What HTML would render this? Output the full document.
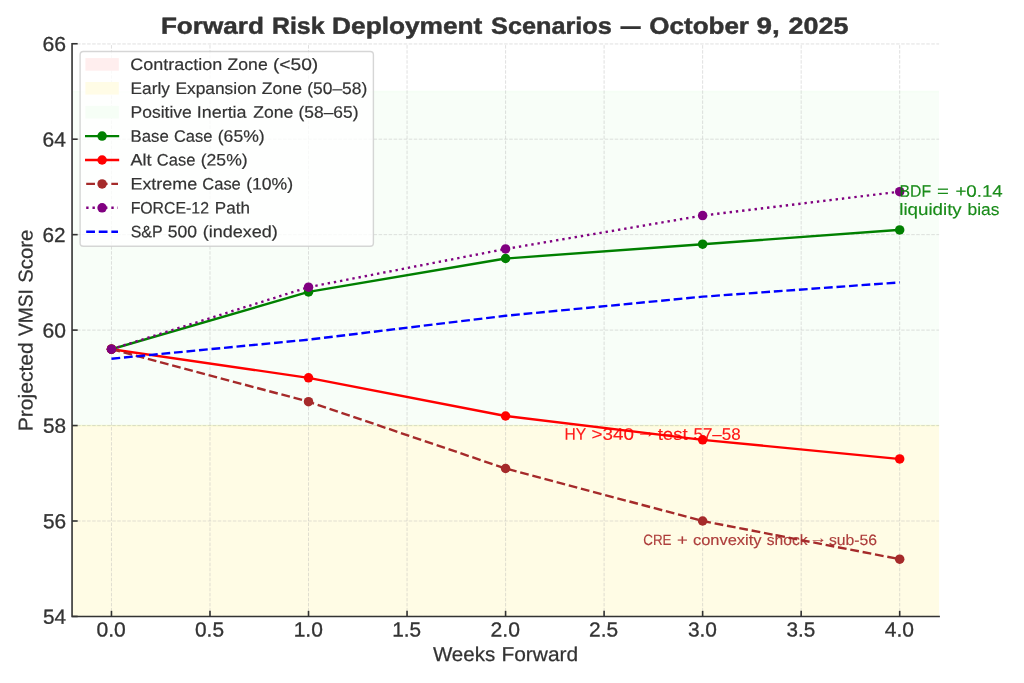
<!DOCTYPE html>
<html lang="en"><head><meta charset="utf-8"><title>Forward Risk Deployment Scenarios</title>
<style>html,body{margin:0;padding:0;background:#fff;overflow:hidden}svg{display:block;will-change:transform}text{font-family:"Liberation Sans",sans-serif;white-space:pre}</style>
</head><body>
<svg width="1024" height="683" viewBox="0 0 1024 683">
<rect x="0" y="0" width="1024" height="683" fill="#ffffff"/>
<defs><clipPath id="ax"><rect x="72.05" y="43.75" width="867.05" height="572.70"/></clipPath></defs>
<g clip-path="url(#ax)">
<rect x="52.05" y="91.48" width="907.05" height="334.08" fill="#90ee90" fill-opacity="0.065" stroke="#90ee90" stroke-opacity="0.065" stroke-width="1.58"/>
<rect x="52.05" y="425.55" width="907.05" height="381.80" fill="#ffdf00" fill-opacity="0.1" stroke="#ffdf00" stroke-opacity="0.1" stroke-width="1.58"/>
</g>
<g stroke="#b0b0b0" stroke-opacity="0.42" stroke-width="0.948" stroke-dasharray="3.508 1.517" fill="none">
<line x1="111.46" y1="616.45" x2="111.46" y2="43.75"/>
<line x1="209.99" y1="616.45" x2="209.99" y2="43.75"/>
<line x1="308.52" y1="616.45" x2="308.52" y2="43.75"/>
<line x1="407.05" y1="616.45" x2="407.05" y2="43.75"/>
<line x1="505.58" y1="616.45" x2="505.58" y2="43.75"/>
<line x1="604.10" y1="616.45" x2="604.10" y2="43.75"/>
<line x1="702.63" y1="616.45" x2="702.63" y2="43.75"/>
<line x1="801.16" y1="616.45" x2="801.16" y2="43.75"/>
<line x1="899.69" y1="616.45" x2="899.69" y2="43.75"/>
<line x1="72.05" y1="616.45" x2="939.1" y2="616.45"/>
<line x1="72.05" y1="521.00" x2="939.1" y2="521.00"/>
<line x1="72.05" y1="425.55" x2="939.1" y2="425.55"/>
<line x1="72.05" y1="330.10" x2="939.1" y2="330.10"/>
<line x1="72.05" y1="234.65" x2="939.1" y2="234.65"/>
<line x1="72.05" y1="139.20" x2="939.1" y2="139.20"/>
<line x1="72.05" y1="43.95" x2="939.1" y2="43.95"/>
</g>
<polyline points="111.46,349.19 308.52,291.92 505.58,258.51 702.63,244.20 899.69,229.88" fill="none" stroke="#008000" stroke-width="2.37" stroke-linejoin="round" stroke-linecap="square"/>
<circle cx="111.46" cy="349.19" r="4.75" fill="#008000"/>
<circle cx="308.52" cy="291.92" r="4.75" fill="#008000"/>
<circle cx="505.58" cy="258.51" r="4.75" fill="#008000"/>
<circle cx="702.63" cy="244.20" r="4.75" fill="#008000"/>
<circle cx="899.69" cy="229.88" r="4.75" fill="#008000"/>
<polyline points="111.46,349.19 308.52,377.83 505.58,416.00 702.63,439.87 899.69,458.96" fill="none" stroke="#ff0000" stroke-width="2.37" stroke-linejoin="round" stroke-linecap="square"/>
<circle cx="111.46" cy="349.19" r="4.75" fill="#ff0000"/>
<circle cx="308.52" cy="377.83" r="4.75" fill="#ff0000"/>
<circle cx="505.58" cy="416.00" r="4.75" fill="#ff0000"/>
<circle cx="702.63" cy="439.87" r="4.75" fill="#ff0000"/>
<circle cx="899.69" cy="458.96" r="4.75" fill="#ff0000"/>
<polyline points="111.46,349.19 308.52,401.69 505.58,468.50 702.63,521.00 899.69,559.18" fill="none" stroke="#a52a2a" stroke-width="2.37" stroke-linejoin="round" stroke-linecap="butt" stroke-dasharray="8.770 3.793"/>
<circle cx="111.46" cy="349.19" r="4.75" fill="#a52a2a"/>
<circle cx="308.52" cy="401.69" r="4.75" fill="#a52a2a"/>
<circle cx="505.58" cy="468.50" r="4.75" fill="#a52a2a"/>
<circle cx="702.63" cy="521.00" r="4.75" fill="#a52a2a"/>
<circle cx="899.69" cy="559.18" r="4.75" fill="#a52a2a"/>
<polyline points="111.46,349.19 308.52,287.15 505.58,248.97 702.63,215.56 899.69,191.70" fill="none" stroke="#800080" stroke-width="2.37" stroke-linejoin="round" stroke-linecap="butt" stroke-dasharray="2.370 3.911"/>
<circle cx="111.46" cy="349.19" r="4.75" fill="#800080"/>
<circle cx="308.52" cy="287.15" r="4.75" fill="#800080"/>
<circle cx="505.58" cy="248.97" r="4.75" fill="#800080"/>
<circle cx="702.63" cy="215.56" r="4.75" fill="#800080"/>
<circle cx="899.69" cy="191.70" r="4.75" fill="#800080"/>
<polyline points="111.46,358.74 308.52,339.65 505.58,315.78 702.63,296.69 899.69,282.38" fill="none" stroke="#0000ff" stroke-width="2.37" stroke-linejoin="round" stroke-linecap="butt" stroke-dasharray="8.770 3.793"/>
<g stroke="#333333" stroke-width="1.6" fill="none">
<path d="M72.05 42.95V616.45H939.90"/>
<line x1="111.46" y1="616.45" x2="111.46" y2="610.85"/>
<line x1="209.99" y1="616.45" x2="209.99" y2="610.85"/>
<line x1="308.52" y1="616.45" x2="308.52" y2="610.85"/>
<line x1="407.05" y1="616.45" x2="407.05" y2="610.85"/>
<line x1="505.58" y1="616.45" x2="505.58" y2="610.85"/>
<line x1="604.10" y1="616.45" x2="604.10" y2="610.85"/>
<line x1="702.63" y1="616.45" x2="702.63" y2="610.85"/>
<line x1="801.16" y1="616.45" x2="801.16" y2="610.85"/>
<line x1="899.69" y1="616.45" x2="899.69" y2="610.85"/>
<line x1="72.05" y1="616.45" x2="77.65" y2="616.45"/>
<line x1="72.05" y1="521.00" x2="77.65" y2="521.00"/>
<line x1="72.05" y1="425.55" x2="77.65" y2="425.55"/>
<line x1="72.05" y1="330.10" x2="77.65" y2="330.10"/>
<line x1="72.05" y1="234.65" x2="77.65" y2="234.65"/>
<line x1="72.05" y1="139.20" x2="77.65" y2="139.20"/>
<line x1="72.05" y1="43.75" x2="77.65" y2="43.75"/>
</g>
<g font-size="20.38" fill="#333333" stroke="#333333" stroke-width="0.3">
<text x="96.50" y="636.5" transform="rotate(0.03 96.50 636.5)" textLength="29.32" lengthAdjust="spacingAndGlyphs">0.0</text>
</g>
<g font-size="20.38" fill="#333333" stroke="#333333" stroke-width="0.3">
<text x="195.04" y="636.5" transform="rotate(0.03 195.04 636.5)" textLength="28.97" lengthAdjust="spacingAndGlyphs">0.5</text>
</g>
<g font-size="20.38" fill="#333333" stroke="#333333" stroke-width="0.3">
<text x="293.68" y="636.5" transform="rotate(0.03 293.68 636.5)" textLength="29.20" lengthAdjust="spacingAndGlyphs">1.0</text>
</g>
<g font-size="20.38" fill="#333333" stroke="#333333" stroke-width="0.3">
<text x="392.23" y="636.5" transform="rotate(0.03 392.23 636.5)" textLength="28.84" lengthAdjust="spacingAndGlyphs">1.5</text>
</g>
<g font-size="20.38" fill="#333333" stroke="#333333" stroke-width="0.3">
<text x="490.54" y="636.5" transform="rotate(0.03 490.54 636.5)" textLength="29.39" lengthAdjust="spacingAndGlyphs">2.0</text>
</g>
<g font-size="20.38" fill="#333333" stroke="#333333" stroke-width="0.3">
<text x="589.08" y="636.5" transform="rotate(0.03 589.08 636.5)" textLength="29.04" lengthAdjust="spacingAndGlyphs">2.5</text>
</g>
<g font-size="20.38" fill="#333333" stroke="#333333" stroke-width="0.3">
<text x="687.92" y="636.5" transform="rotate(0.03 687.92 636.5)" textLength="29.06" lengthAdjust="spacingAndGlyphs">3.0</text>
</g>
<g font-size="20.38" fill="#333333" stroke="#333333" stroke-width="0.3">
<text x="786.46" y="636.5" transform="rotate(0.03 786.46 636.5)" textLength="28.72" lengthAdjust="spacingAndGlyphs">3.5</text>
</g>
<g font-size="20.38" fill="#333333" stroke="#333333" stroke-width="0.3">
<text x="884.77" y="636.5" transform="rotate(0.03 884.77 636.5)" textLength="29.28" lengthAdjust="spacingAndGlyphs">4.0</text>
</g>
<g font-size="20.38" fill="#333333" stroke="#333333" stroke-width="0.3">
<text x="42.92" y="623.75" transform="rotate(0.03 42.92 623.75)" textLength="23.01" lengthAdjust="spacingAndGlyphs">54</text>
</g>
<g font-size="20.38" fill="#333333" stroke="#333333" stroke-width="0.3">
<text x="42.91" y="528.3" transform="rotate(0.03 42.91 528.3)" textLength="23.20" lengthAdjust="spacingAndGlyphs">56</text>
</g>
<g font-size="20.38" fill="#333333" stroke="#333333" stroke-width="0.3">
<text x="42.91" y="432.85" transform="rotate(0.03 42.91 432.85)" textLength="23.09" lengthAdjust="spacingAndGlyphs">58</text>
</g>
<g font-size="20.38" fill="#333333" stroke="#333333" stroke-width="0.3">
<text x="42.55" y="337.4" transform="rotate(0.03 42.55 337.4)" textLength="23.41" lengthAdjust="spacingAndGlyphs">60</text>
</g>
<g font-size="20.38" fill="#333333" stroke="#333333" stroke-width="0.3">
<text x="42.57" y="241.95" transform="rotate(0.03 42.57 241.95)" textLength="23.03" lengthAdjust="spacingAndGlyphs">62</text>
</g>
<g font-size="20.38" fill="#333333" stroke="#333333" stroke-width="0.3">
<text x="42.55" y="146.5" transform="rotate(0.03 42.55 146.5)" textLength="23.39" lengthAdjust="spacingAndGlyphs">64</text>
</g>
<g font-size="20.38" fill="#333333" stroke="#333333" stroke-width="0.3">
<text x="42.54" y="51.05" transform="rotate(0.03 42.54 51.05)" textLength="23.58" lengthAdjust="spacingAndGlyphs">66</text>
</g>
<g font-size="20.0" fill="#333333" stroke="#333333" stroke-width="0.25">
<text x="432.91" y="661.0" transform="rotate(0.03 432.91 661.0)" textLength="62.24" lengthAdjust="spacingAndGlyphs">Weeks</text>
<text x="501.47" y="661.0" transform="rotate(0.03 501.47 661.0)" textLength="76.70" lengthAdjust="spacingAndGlyphs">Forward</text>
</g>
<g font-size="20.0" fill="#333333" stroke="#333333" stroke-width="0.25" transform="translate(32.4 330.40) rotate(-90)">
<text x="-100.79" y="0" transform="rotate(0.03 -100.79 0)" textLength="88.80" lengthAdjust="spacingAndGlyphs">Projected</text>
<text x="-5.55" y="0" transform="rotate(0.03 -5.55 0)" textLength="46.85" lengthAdjust="spacingAndGlyphs">VMSI</text>
<text x="47.71" y="0" transform="rotate(0.03 47.71 0)" textLength="53.07" lengthAdjust="spacingAndGlyphs">Score</text>
</g>
<g font-size="23.34" fill="#333333" font-weight="bold" stroke="#333333" stroke-width="0.45">
<text x="160.94" y="33.7" transform="rotate(0.03 160.94 33.7)" textLength="102.89" lengthAdjust="spacingAndGlyphs">Forward</text>
<text x="272.00" y="33.7" transform="rotate(0.03 272.00 33.7)" textLength="52.44" lengthAdjust="spacingAndGlyphs">Risk</text>
<text x="332.07" y="33.7" transform="rotate(0.03 332.07 33.7)" textLength="150.31" lengthAdjust="spacingAndGlyphs">Deployment</text>
<text x="491.08" y="33.7" transform="rotate(0.03 491.08 33.7)" textLength="120.66" lengthAdjust="spacingAndGlyphs">Scenarios</text>
<text x="620.63" y="33.7" transform="rotate(0.03 620.63 33.7)" textLength="19.80" lengthAdjust="spacingAndGlyphs">—</text>
<text x="649.34" y="33.7" transform="rotate(0.03 649.34 33.7)" textLength="99.64" lengthAdjust="spacingAndGlyphs">October</text>
<text x="756.52" y="33.7" transform="rotate(0.03 756.52 33.7)" textLength="23.21" lengthAdjust="spacingAndGlyphs">9,</text>
<text x="788.63" y="33.7" transform="rotate(0.03 788.63 33.7)" textLength="59.86" lengthAdjust="spacingAndGlyphs">2025</text>
</g>
<g font-size="16.59" fill="#008000" fill-opacity="0.9" stroke="#008000" stroke-width="0.15" stroke-opacity="0.9">
<text x="899.54" y="196.7" transform="rotate(0.03 899.54 196.7)" textLength="31.56" lengthAdjust="spacingAndGlyphs">BDF</text>
<text x="937.08" y="196.7" transform="rotate(0.03 937.08 196.7)" textLength="11.90" lengthAdjust="spacingAndGlyphs">=</text>
<text x="955.41" y="196.7" transform="rotate(0.03 955.41 196.7)" textLength="47.30" lengthAdjust="spacingAndGlyphs">+0.14</text>
</g>
<g font-size="16.59" fill="#008000" fill-opacity="0.9" stroke="#008000" stroke-width="0.15" stroke-opacity="0.9">
<text x="899.23" y="215.0" transform="rotate(0.03 899.23 215.0)" textLength="62.54" lengthAdjust="spacingAndGlyphs">liquidity</text>
<text x="967.51" y="215.0" transform="rotate(0.03 967.51 215.0)" textLength="31.88" lengthAdjust="spacingAndGlyphs">bias</text>
</g>
<g font-size="16.59" fill="#ff0000" fill-opacity="0.9" stroke="#ff0000" stroke-width="0.15" stroke-opacity="0.9">
<text x="564.55" y="439.7" transform="rotate(0.03 564.55 439.7)" textLength="21.66" lengthAdjust="spacingAndGlyphs">HY</text>
<text x="591.56" y="439.7" transform="rotate(0.03 591.56 439.7)" textLength="42.37" lengthAdjust="spacingAndGlyphs">&gt;340</text>
<text x="636.20" y="437.01" transform="rotate(0.03 636.20 437.01)" textLength="19.62" lengthAdjust="spacingAndGlyphs">→</text>
<text x="657.72" y="439.7" transform="rotate(0.03 657.72 439.7)" textLength="29.92" lengthAdjust="spacingAndGlyphs">test</text>
<text x="693.46" y="439.7" transform="rotate(0.03 693.46 439.7)" textLength="47.26" lengthAdjust="spacingAndGlyphs">57–58</text>
</g>
<g font-size="14.93" fill="#a52a2a" fill-opacity="0.9" stroke="#a52a2a" stroke-width="0.15" stroke-opacity="0.9">
<text x="643.21" y="545.1" transform="rotate(0.03 643.21 545.1)" textLength="28.33" lengthAdjust="spacingAndGlyphs">CRE</text>
<text x="677.03" y="545.1" transform="rotate(0.03 677.03 545.1)" textLength="10.71" lengthAdjust="spacingAndGlyphs">+</text>
<text x="692.92" y="545.1" transform="rotate(0.03 692.92 545.1)" textLength="68.64" lengthAdjust="spacingAndGlyphs">convexity</text>
<text x="766.81" y="545.1" transform="rotate(0.03 766.81 545.1)" textLength="40.78" lengthAdjust="spacingAndGlyphs">shock</text>
<text x="809.37" y="542.68" transform="rotate(0.03 809.37 542.68)" textLength="17.65" lengthAdjust="spacingAndGlyphs">→</text>
<text x="828.94" y="545.1" transform="rotate(0.03 828.94 545.1)" textLength="48.10" lengthAdjust="spacingAndGlyphs">sub-56</text>
</g>
<rect x="80.1" y="51.56" width="293.30" height="194.74" rx="3.2" ry="3.2" fill="#ffffff" fill-opacity="0.8" stroke="#cccccc" stroke-opacity="0.8" stroke-width="1.4"/>
<rect x="85.40" y="58.10" width="33.40" height="12.6" fill="#ffeeee"/>
<rect x="85.40" y="82.00" width="33.40" height="12.6" fill="#fffce6"/>
<rect x="85.40" y="105.90" width="33.40" height="12.6" fill="#f6fef6"/>
<line x1="86.2" y1="136.10" x2="118.0" y2="136.10" stroke="#008000" stroke-width="2.37" stroke-linecap="square"/>
<circle cx="102.10" cy="136.10" r="4.75" fill="#008000"/>
<line x1="86.2" y1="160.00" x2="118.0" y2="160.00" stroke="#ff0000" stroke-width="2.37" stroke-linecap="square"/>
<circle cx="102.10" cy="160.00" r="4.75" fill="#ff0000"/>
<line x1="86.2" y1="183.90" x2="118.0" y2="183.90" stroke="#a52a2a" stroke-width="2.37" stroke-dasharray="8.770 3.793"/>
<circle cx="102.10" cy="183.90" r="4.75" fill="#a52a2a"/>
<line x1="86.2" y1="207.80" x2="118.0" y2="207.80" stroke="#800080" stroke-width="2.37" stroke-dasharray="2.370 3.911"/>
<circle cx="102.10" cy="207.80" r="4.75" fill="#800080"/>
<line x1="86.2" y1="231.70" x2="118.0" y2="231.70" stroke="#0000ff" stroke-width="2.37" stroke-dasharray="8.770 3.793"/>
<g font-size="16.59" fill="#333333" stroke="#333333" stroke-width="0.2">
<text x="130.37" y="70.0" transform="rotate(0.03 130.37 70.0)" textLength="91.89" lengthAdjust="spacingAndGlyphs">Contraction</text>
<text x="227.63" y="70.0" transform="rotate(0.03 227.63 70.0)" textLength="40.03" lengthAdjust="spacingAndGlyphs">Zone</text>
<text x="272.90" y="70.0" transform="rotate(0.03 272.90 70.0)" textLength="45.37" lengthAdjust="spacingAndGlyphs">(&lt;50)</text>
</g>
<g font-size="16.59" fill="#333333" stroke="#333333" stroke-width="0.2">
<text x="130.52" y="93.9" transform="rotate(0.03 130.52 93.9)" textLength="39.35" lengthAdjust="spacingAndGlyphs">Early</text>
<text x="175.42" y="93.9" transform="rotate(0.03 175.42 93.9)" textLength="81.05" lengthAdjust="spacingAndGlyphs">Expansion</text>
<text x="261.88" y="93.9" transform="rotate(0.03 261.88 93.9)" textLength="40.03" lengthAdjust="spacingAndGlyphs">Zone</text>
<text x="307.26" y="93.9" transform="rotate(0.03 307.26 93.9)" textLength="59.96" lengthAdjust="spacingAndGlyphs">(50–58)</text>
</g>
<g font-size="16.59" fill="#333333" stroke="#333333" stroke-width="0.2">
<text x="130.50" y="117.8" transform="rotate(0.03 130.50 117.8)" textLength="61.28" lengthAdjust="spacingAndGlyphs">Positive</text>
<text x="196.75" y="117.8" transform="rotate(0.03 196.75 117.8)" textLength="49.81" lengthAdjust="spacingAndGlyphs">Inertia</text>
<text x="253.18" y="117.8" transform="rotate(0.03 253.18 117.8)" textLength="40.03" lengthAdjust="spacingAndGlyphs">Zone</text>
<text x="298.56" y="117.8" transform="rotate(0.03 298.56 117.8)" textLength="59.96" lengthAdjust="spacingAndGlyphs">(58–65)</text>
</g>
<g font-size="16.59" fill="#333333" stroke="#333333" stroke-width="0.2">
<text x="130.56" y="141.7" transform="rotate(0.03 130.56 141.7)" textLength="38.16" lengthAdjust="spacingAndGlyphs">Base</text>
<text x="173.89" y="141.7" transform="rotate(0.03 173.89 141.7)" textLength="38.46" lengthAdjust="spacingAndGlyphs">Case</text>
<text x="217.74" y="141.7" transform="rotate(0.03 217.74 141.7)" textLength="46.95" lengthAdjust="spacingAndGlyphs">(65%)</text>
</g>
<g font-size="16.59" fill="#333333" stroke="#333333" stroke-width="0.2">
<text x="130.47" y="165.6" transform="rotate(0.03 130.47 165.6)" textLength="21.08" lengthAdjust="spacingAndGlyphs">Alt</text>
<text x="156.87" y="165.6" transform="rotate(0.03 156.87 165.6)" textLength="38.46" lengthAdjust="spacingAndGlyphs">Case</text>
<text x="200.71" y="165.6" transform="rotate(0.03 200.71 165.6)" textLength="46.95" lengthAdjust="spacingAndGlyphs">(25%)</text>
</g>
<g font-size="16.59" fill="#333333" stroke="#333333" stroke-width="0.2">
<text x="130.46" y="189.5" transform="rotate(0.03 130.46 189.5)" textLength="66.75" lengthAdjust="spacingAndGlyphs">Extreme</text>
<text x="202.33" y="189.5" transform="rotate(0.03 202.33 189.5)" textLength="38.46" lengthAdjust="spacingAndGlyphs">Case</text>
<text x="246.17" y="189.5" transform="rotate(0.03 246.17 189.5)" textLength="46.95" lengthAdjust="spacingAndGlyphs">(10%)</text>
</g>
<g font-size="16.59" fill="#333333" stroke="#333333" stroke-width="0.2">
<text x="130.63" y="213.4" transform="rotate(0.03 130.63 213.4)" textLength="78.34" lengthAdjust="spacingAndGlyphs">FORCE-12</text>
<text x="214.89" y="213.4" transform="rotate(0.03 214.89 213.4)" textLength="35.02" lengthAdjust="spacingAndGlyphs">Path</text>
</g>
<g font-size="16.59" fill="#333333" stroke="#333333" stroke-width="0.2">
<text x="130.71" y="237.3" transform="rotate(0.03 130.71 237.3)" textLength="31.89" lengthAdjust="spacingAndGlyphs">S&amp;P</text>
<text x="167.81" y="237.3" transform="rotate(0.03 167.81 237.3)" textLength="29.29" lengthAdjust="spacingAndGlyphs">500</text>
<text x="202.74" y="237.3" transform="rotate(0.03 202.74 237.3)" textLength="75.13" lengthAdjust="spacingAndGlyphs">(indexed)</text>
</g>
</svg></body></html>
